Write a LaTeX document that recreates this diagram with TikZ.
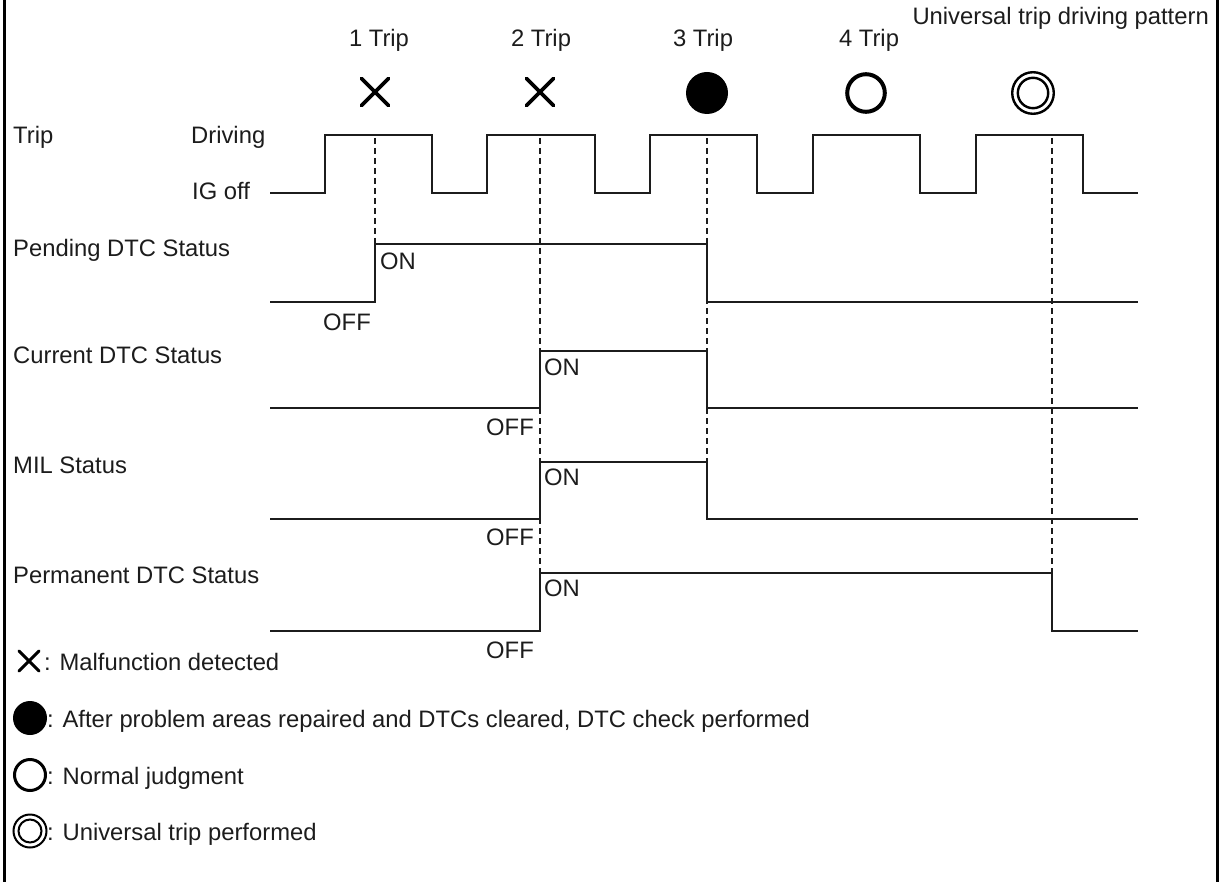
\documentclass[tikz,border=0pt]{standalone}
\usepackage{fontspec}
\setmainfont{Liberation Sans}
\definecolor{ink}{RGB}{28,28,28}
\begin{document}
\begin{tikzpicture}[x=1pt,y=-1pt,
  wave/.style={line width=2.5pt, line join=miter, draw=ink},
  guide/.style={line width=1.6pt, dash pattern=on 6pt off 4pt, draw=ink},
  lbl/.style={inner sep=0pt, font=\fontsize{23.8}{28}\selectfont, text=ink},
  cross/.style={line width=3.6pt, line cap=round, draw=black},
  frame/.style={line width=3pt, draw=black}]
\useasboundingbox (0,0) rectangle (1222,882);
% side frame lines
\draw[frame] (4,0) -- (4,882);
\draw[frame] (1217,0) -- (1217,882);

% trip headers
\node[lbl, anchor=base] (t1) at (379,47) {1 Trip};
\node[lbl, anchor=base] (t2) at (541,47) {2 Trip};
\node[lbl, anchor=base] (t3) at (703,47) {3 Trip};
\node[lbl, anchor=base] (t4) at (869,47) {4 Trip};
\node[lbl, anchor=base east] (utp) at (1209,25) {Universal trip driving pattern};

% trip symbols
\draw[cross] (361.5,78.5) -- (388.5,105.5) (361.5,105.5) -- (388.5,78.5);
\draw[cross] (526.5,78.5) -- (553.5,105.5) (526.5,105.5) -- (553.5,78.5);
\fill[black] (707,93) circle (21);
\draw[line width=4pt] (866,93) circle (18.8);
\draw[line width=2.4pt] (1033,93) circle (20.8);
\draw[line width=2.4pt] (1033,93) circle (15.2);

% row labels
\node[lbl, anchor=base west] (ltrip) at (13,144) {Trip};
\node[lbl, anchor=base west] (ldrv) at (191,144) {Driving};
\node[lbl, anchor=base west] (lig) at (192,200) {IG off};
\node[lbl, anchor=base west] (lpend) at (13,257) {Pending DTC Status};
\node[lbl, anchor=base west] (lcur) at (13,363) {Current DTC Status};
\node[lbl, anchor=base west] (lmil) at (13,473) {MIL Status};
\node[lbl, anchor=base west] (lperm) at (13,583) {Permanent DTC Status};

% dashed guides
\draw[guide] (375,138) -- (375,244);
\draw[guide] (540,138) -- (540,573);
\draw[guide] (707,138) -- (707,462);
\draw[guide] (1052,138) -- (1052,573);

% trip waveform
\draw[wave] (270,193) -- (325,193) -- (325,135) -- (432,135) -- (432,193)
  -- (487,193) -- (487,135) -- (595,135) -- (595,193)
  -- (650,193) -- (650,135) -- (757,135) -- (757,193)
  -- (813,193) -- (813,135) -- (920,135) -- (920,193)
  -- (976,193) -- (976,135) -- (1083,135) -- (1083,193) -- (1138,193);

% pending
\draw[wave] (270,302) -- (375,302) -- (375,244) -- (707,244) -- (707,302) -- (1138,302);
% current
\draw[wave] (270,408) -- (540,408) -- (540,351) -- (707,351) -- (707,408) -- (1138,408);
% MIL
\draw[wave] (270,519) -- (540,519) -- (540,462) -- (707,462) -- (707,519) -- (1138,519);
% permanent
\draw[wave] (270,631) -- (540,631) -- (540,573) -- (1052,573) -- (1052,631) -- (1138,631);

% ON / OFF labels
\node[lbl, anchor=base west] (on1) at (380,270) {ON};
\node[lbl, anchor=base east] (off1) at (371,330) {OFF};
\node[lbl, anchor=base west] (on2) at (544,375) {ON};
\node[lbl, anchor=base east] (off2) at (534,435) {OFF};
\node[lbl, anchor=base west] (on3) at (544,485) {ON};
\node[lbl, anchor=base east] (off3) at (534,545) {OFF};
\node[lbl, anchor=base west] (on4) at (544,596) {ON};
\node[lbl, anchor=base east] (off4) at (534,658) {OFF};

% legend
\draw[line width=3pt, line cap=round] (19,651) -- (39,671) (19,671) -- (39,651);
\node[lbl, anchor=base west] (lg1) at (44,670) {: Malfunction detected};
\fill[black] (30,718) circle (17);
\node[lbl, anchor=base west] (lg2) at (47,727) {: After problem areas repaired and DTCs cleared, DTC check performed};
\draw[line width=3pt] (30,775) circle (15.5);
\node[lbl, anchor=base west] (lg3) at (47,784) {: Normal judgment};
\draw[line width=2pt] (30,831) circle (16.5);
\draw[line width=2pt] (30,831) circle (11.5);
\node[lbl, anchor=base west] (lg4) at (47,840) {: Universal trip performed};
\end{tikzpicture}
\end{document}
